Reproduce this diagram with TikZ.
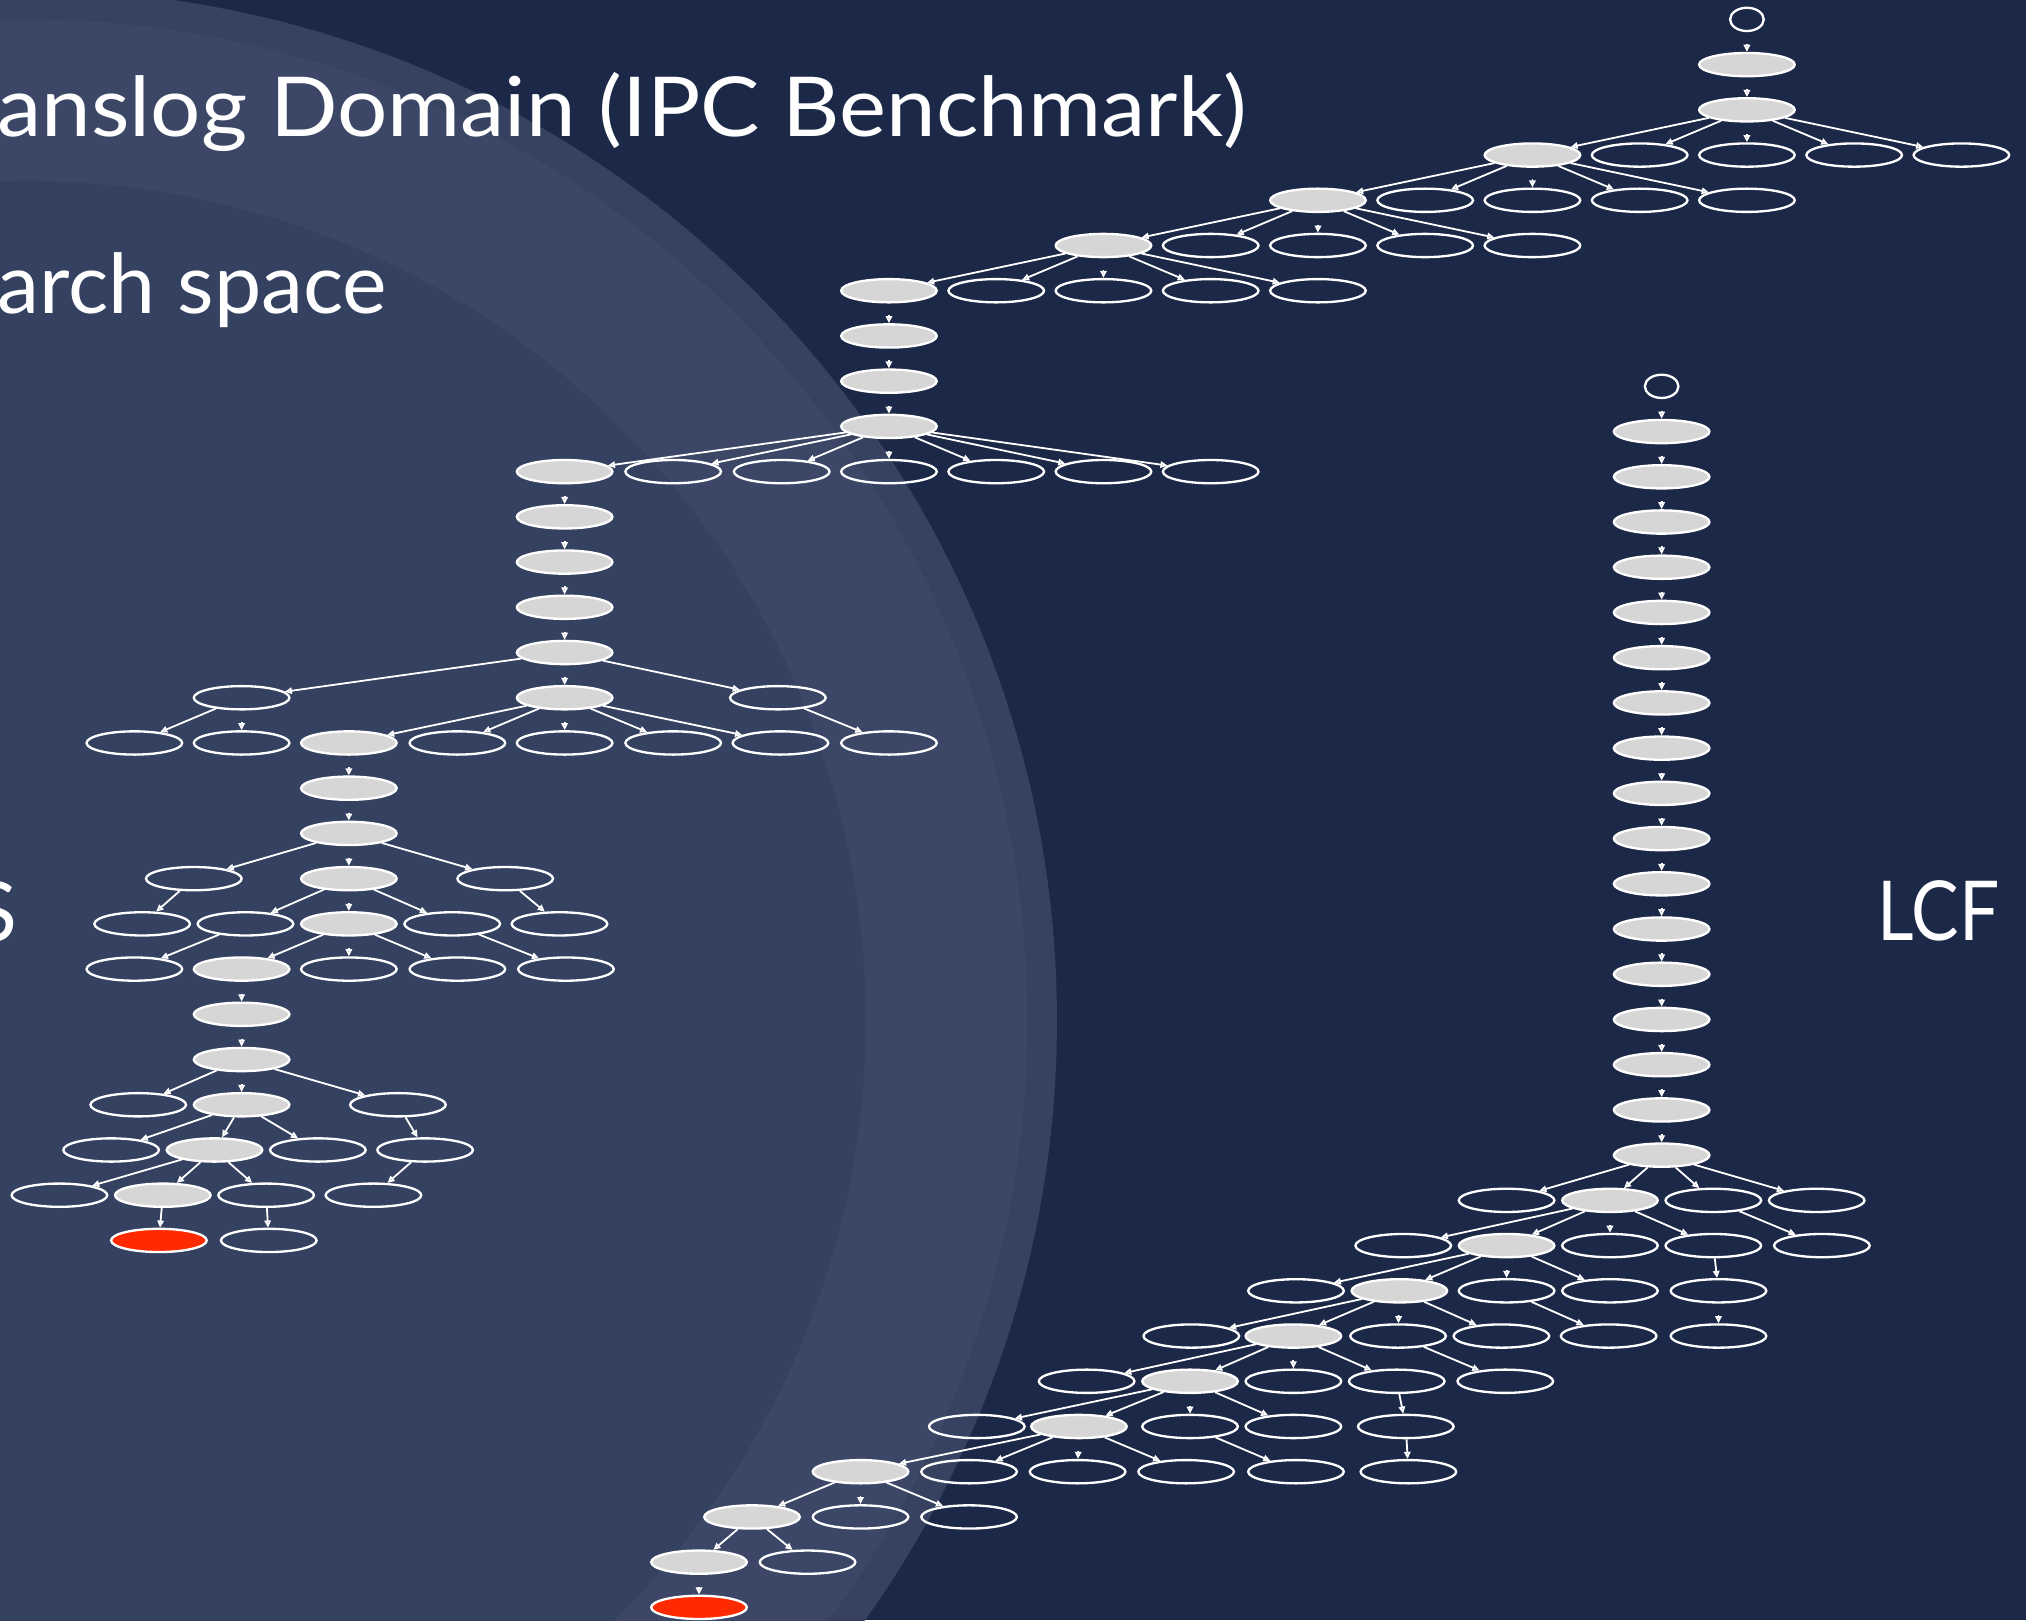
\documentclass[tikz,border=0pt]{standalone}
\usepackage{fontspec}
\usetikzlibrary{shapes.geometric,arrows.meta}
\newfontfamily\slidefont{Lato}
\definecolor{slidebg}{HTML}{1C2847}
\definecolor{ringouter}{HTML}{36425F}
\definecolor{ringmid}{HTML}{3C4767}
\definecolor{ringinner}{HTML}{344160}
\definecolor{visited}{HTML}{D6D6D6}
\definecolor{goalred}{HTML}{FF2A00}
\begin{document}
\begin{tikzpicture}[x=1pt,y=-1pt,
  gen/.style={ellipse, draw=white, line width=1.8pt, minimum width=74pt, minimum height=18pt, inner sep=0pt},
  expd/.style={gen, fill=visited},
  goalst/.style={gen, fill=goalred},
  initst/.style={gen, minimum width=26pt},
  link/.style={draw=white, line width=1.4pt, -{Triangle[open,length=5.5pt,width=5pt]}},
  vlink/.style={link, shorten <=9pt},
  slidetext/.style={text=white, inner sep=0pt, font=\slidefont\fontsize{64}{64}\selectfont}
]
\useasboundingbox (0,0) rectangle (1568,1254);
% background and the large shaded disc
\fill[slidebg] (0,0) rectangle (1568,1254);
\fill[ringouter] (20,790) circle (798pt);
\fill[ringmid] (20,790) circle (775pt);
\fill[ringinner] (20,790) circle (650pt);

% slide texts
\node[slidetext, anchor=base west] (title) at (-2,106) {\scalebox{1.075}[1]{anslog Domain (IPC Benchmark)}};
\node[slidetext, anchor=base west] (sub) at (-2,243) {\scalebox{1.02}[1]{arch space}};
\node[slidetext, anchor=base east] (lefttag) at (14,729) {S};
\node[slidetext, anchor=base west] (lcf) at (1453,728) {\scalebox{0.86}[1]{LCF}};

% ---------------- search tree on the left ----------------
\node[initst] (a0) at (1352,15) {};
\node[expd] (a1) at (1352,50) {};
\node[expd] (a2) at (1352,85) {};
\node[expd] (a3a) at (1186,120) {};
\node[gen] (a3b) at (1269,120) {};
\node[gen] (a3c) at (1352,120) {};
\node[gen] (a3d) at (1435,120) {};
\node[gen] (a3e) at (1518,120) {};
\node[expd] (a4a) at (1020,155) {};
\node[gen] (a4b) at (1103,155) {};
\node[gen] (a4c) at (1186,155) {};
\node[gen] (a4d) at (1269,155) {};
\node[gen] (a4e) at (1352,155) {};
\node[expd] (a5a) at (854,190) {};
\node[gen] (a5b) at (937,190) {};
\node[gen] (a5c) at (1020,190) {};
\node[gen] (a5d) at (1103,190) {};
\node[gen] (a5e) at (1186,190) {};
\node[expd] (a6a) at (688,225) {};
\node[gen] (a6b) at (771,225) {};
\node[gen] (a6c) at (854,225) {};
\node[gen] (a6d) at (937,225) {};
\node[gen] (a6e) at (1020,225) {};
\node[expd] (a7) at (688,260) {};
\node[expd] (a8) at (688,295) {};
\node[expd] (a9) at (688,330) {};
\node[expd] (a10a) at (437,365) {};
\node[gen] (a10b) at (521,365) {};
\node[gen] (a10c) at (605,365) {};
\node[gen] (a10d) at (688,365) {};
\node[gen] (a10e) at (771,365) {};
\node[gen] (a10f) at (854,365) {};
\node[gen] (a10g) at (937,365) {};
\node[expd] (a11) at (437,400) {};
\node[expd] (a12) at (437,435) {};
\node[expd] (a13) at (437,470) {};
\node[expd] (a14) at (437,505) {};
\node[gen] (a15a) at (187,540) {};
\node[expd] (a15b) at (437,540) {};
\node[gen] (a15c) at (602,540) {};
\node[gen] (a16a) at (104,575) {};
\node[gen] (a16b) at (187,575) {};
\node[expd] (a16c) at (270,575) {};
\node[gen] (a16d) at (354,575) {};
\node[gen] (a16e) at (437,575) {};
\node[gen] (a16f) at (521,575) {};
\node[gen] (a16g) at (604,575) {};
\node[gen] (a16h) at (688,575) {};
\node[expd] (a17) at (270,610) {};
\node[expd] (a18) at (270,645) {};
\node[gen] (a19a) at (150,680) {};
\node[expd] (a19b) at (270,680) {};
\node[gen] (a19c) at (391,680) {};
\node[gen] (a20a) at (110,715) {};
\node[gen] (a20b) at (190,715) {};
\node[expd] (a20c) at (270,715) {};
\node[gen] (a20d) at (350,715) {};
\node[gen] (a20e) at (433,715) {};
\node[gen] (a21a) at (104,750) {};
\node[expd] (a21b) at (187,750) {};
\node[gen] (a21c) at (270,750) {};
\node[gen] (a21d) at (354,750) {};
\node[gen] (a21e) at (438,750) {};
\node[expd] (a22) at (187,785) {};
\node[expd] (a23) at (187,820) {};
\node[gen] (a24a) at (107,855) {};
\node[expd] (a24b) at (187,855) {};
\node[gen] (a24c) at (308,855) {};
\node[gen] (a25a) at (86,890) {};
\node[expd] (a25b) at (166,890) {};
\node[gen] (a25c) at (246,890) {};
\node[gen] (a25d) at (329,890) {};
\node[gen] (a26a) at (46,925) {};
\node[expd] (a26b) at (126,925) {};
\node[gen] (a26c) at (206,925) {};
\node[gen] (a26d) at (289,925) {};
\node[goalst] (a27a) at (123,960) {};
\node[gen] (a27b) at (208,960) {};

\draw[vlink] (a0) -- (a1);
\draw[vlink] (a1) -- (a2);
\foreach \c in {a3a,a3b,a3d,a3e} \draw[link] (a2) -- (\c);
\draw[vlink] (a2) -- (a3c);
\foreach \c in {a4a,a4b,a4d,a4e} \draw[link] (a3a) -- (\c);
\draw[vlink] (a3a) -- (a4c);
\foreach \c in {a5a,a5b,a5d,a5e} \draw[link] (a4a) -- (\c);
\draw[vlink] (a4a) -- (a5c);
\foreach \c in {a6a,a6b,a6d,a6e} \draw[link] (a5a) -- (\c);
\draw[vlink] (a5a) -- (a6c);
\draw[vlink] (a6a) -- (a7);
\draw[vlink] (a7) -- (a8);
\draw[vlink] (a8) -- (a9);
\foreach \c in {a10a,a10b,a10c,a10e,a10f,a10g} \draw[link] (a9) -- (\c);
\draw[vlink] (a9) -- (a10d);
\draw[vlink] (a10a) -- (a11);
\draw[vlink] (a11) -- (a12);
\draw[vlink] (a12) -- (a13);
\draw[vlink] (a13) -- (a14);
\draw[link] (a14) -- (a15a);
\draw[vlink] (a14) -- (a15b);
\draw[link] (a14) -- (a15c);
\draw[link] (a15a) -- (a16a);
\draw[vlink] (a15a) -- (a16b);
\foreach \c in {a16c,a16d,a16f,a16g} \draw[link] (a15b) -- (\c);
\draw[vlink] (a15b) -- (a16e);
\draw[link] (a15c) -- (a16h);
\draw[vlink] (a16c) -- (a17);
\draw[vlink] (a17) -- (a18);
\draw[link] (a18) -- (a19a);
\draw[vlink] (a18) -- (a19b);
\draw[link] (a18) -- (a19c);
\draw[link] (a19a) -- (a20a);
\draw[link] (a19b) -- (a20b);
\draw[vlink] (a19b) -- (a20c);
\draw[link] (a19b) -- (a20d);
\draw[link] (a19c) -- (a20e);
\draw[link] (a20b) -- (a21a);
\draw[link] (a20c) -- (a21b);
\draw[vlink] (a20c) -- (a21c);
\draw[link] (a20c) -- (a21d);
\draw[link] (a20d) -- (a21e);
\draw[vlink] (a21b) -- (a22);
\draw[vlink] (a22) -- (a23);
\draw[link] (a23) -- (a24a);
\draw[vlink] (a23) -- (a24b);
\draw[link] (a23) -- (a24c);
\foreach \c in {a25a,a25b,a25c} \draw[link] (a24b) -- (\c);
\draw[link] (a24c) -- (a25d);
\foreach \c in {a26a,a26b,a26c} \draw[link] (a25b) -- (\c);
\draw[link] (a25d) -- (a26d);
\draw[link] (a26b) -- (a27a);
\draw[link] (a26c) -- (a27b);

% ---------------- search tree on the right (LCF) ----------------
\node[initst] (b0) at (1286,299) {};
\foreach \i in {1,...,17} \node[expd] (b\i) at (1286,{299+35*\i}) {};
\foreach \i [remember=\i as \j (initially 0)] in {1,...,17} \draw[vlink] (b\j) -- (b\i);

\node[gen] (c1a) at (1166,929) {};
\node[expd] (c1b) at (1246,929) {};
\node[gen] (c1c) at (1326,929) {};
\node[gen] (c1d) at (1406,929) {};
\node[gen] (c2a) at (1086,964) {};
\node[expd] (c2b) at (1166,964) {};
\node[gen] (c2c) at (1246,964) {};
\node[gen] (c2d) at (1326,964) {};
\node[gen] (c2e) at (1410,964) {};
\node[gen] (c3a) at (1003,999) {};
\node[expd] (c3b) at (1083,999) {};
\node[gen] (c3c) at (1166,999) {};
\node[gen] (c3d) at (1246,999) {};
\node[gen] (c3e) at (1330,999) {};
\node[gen] (c4a) at (922,1034) {};
\node[expd] (c4b) at (1001,1034) {};
\node[gen] (c4c) at (1082,1034) {};
\node[gen] (c4d) at (1162,1034) {};
\node[gen] (c4e) at (1245,1034) {};
\node[gen] (c4f) at (1330,1034) {};
\node[gen] (c5a) at (841,1069) {};
\node[expd] (c5b) at (921,1069) {};
\node[gen] (c5c) at (1001,1069) {};
\node[gen] (c5d) at (1081,1069) {};
\node[gen] (c5e) at (1165,1069) {};
\node[gen] (c6a) at (756,1104) {};
\node[expd] (c6b) at (835,1104) {};
\node[gen] (c6c) at (921,1104) {};
\node[gen] (c6d) at (1001,1104) {};
\node[gen] (c6e) at (1088,1104) {};
\node[expd] (c7a) at (666,1139) {};
\node[gen] (c7b) at (750,1139) {};
\node[gen] (c7c) at (834,1139) {};
\node[gen] (c7d) at (918,1139) {};
\node[gen] (c7e) at (1003,1139) {};
\node[gen] (c7f) at (1090,1139) {};
\node[expd] (c8a) at (582,1174) {};
\node[gen] (c8b) at (666,1174) {};
\node[gen] (c8c) at (750,1174) {};
\node[expd] (c9a) at (541,1209) {};
\node[gen] (c9b) at (625,1209) {};
\node[goalst] (c10) at (541,1244) {};

\foreach \c in {c1a,c1b,c1c,c1d} \draw[link] (b17) -- (\c);
\foreach \c in {c2a,c2b,c2d} \draw[link] (c1b) -- (\c);
\draw[vlink] (c1b) -- (c2c);
\draw[link] (c1c) -- (c2e);
\foreach \c in {c3a,c3b,c3d} \draw[link] (c2b) -- (\c);
\draw[vlink] (c2b) -- (c3c);
\draw[link] (c2d) -- (c3e);
\foreach \c in {c4a,c4b,c4d} \draw[link] (c3b) -- (\c);
\draw[vlink] (c3b) -- (c4c);
\draw[link] (c3c) -- (c4e);
\draw[vlink] (c3e) -- (c4f);
\foreach \c in {c5a,c5b,c5d} \draw[link] (c4b) -- (\c);
\draw[vlink] (c4b) -- (c5c);
\draw[link] (c4c) -- (c5e);
\foreach \c in {c6a,c6b,c6d} \draw[link] (c5b) -- (\c);
\draw[vlink] (c5b) -- (c6c);
\draw[link] (c5d) -- (c6e);
\foreach \c in {c7a,c7b,c7d} \draw[link] (c6b) -- (\c);
\draw[vlink] (c6b) -- (c7c);
\draw[link] (c6c) -- (c7e);
\draw[link] (c6e) -- (c7f);
\draw[link] (c7a) -- (c8a);
\draw[vlink] (c7a) -- (c8b);
\draw[link] (c7a) -- (c8c);
\draw[link] (c8a) -- (c9a);
\draw[link] (c8a) -- (c9b);
\draw[vlink] (c9a) -- (c10);
\end{tikzpicture}
\end{document}
